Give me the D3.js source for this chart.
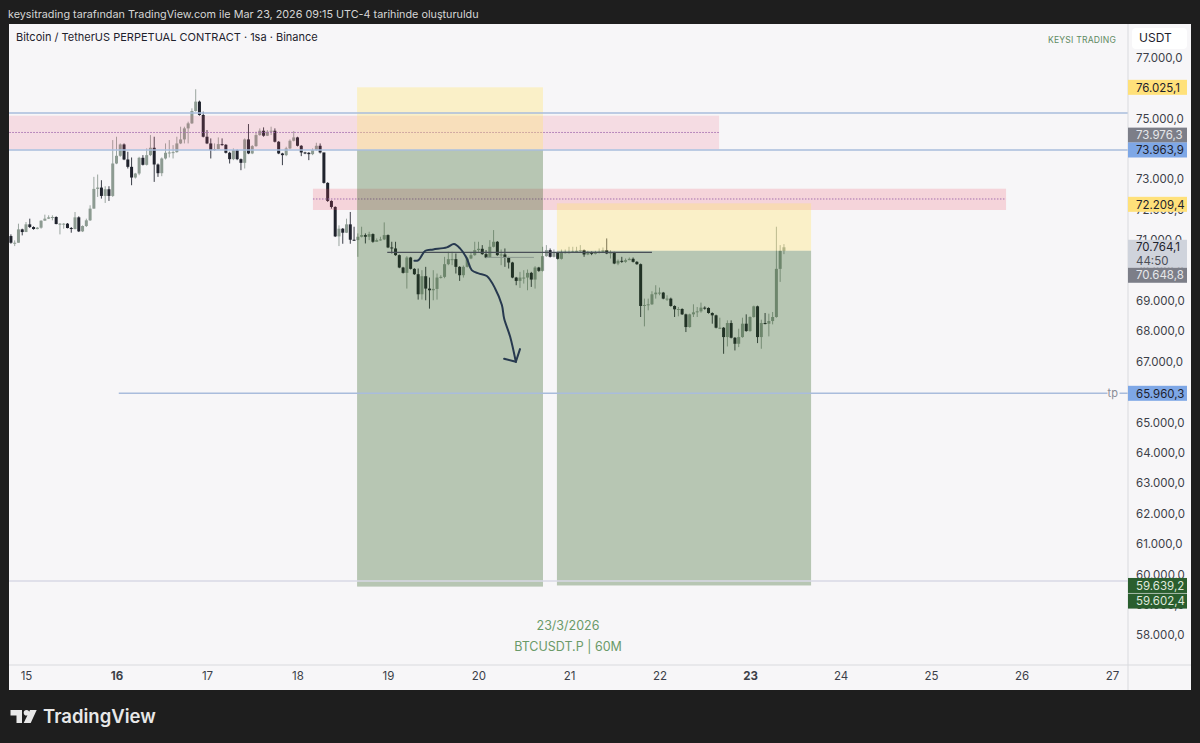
<!DOCTYPE html>
<html>
<head>
<meta charset="utf-8">
<script src="https://cdn.jsdelivr.net/npm/d3@7"></script>
<style>
html,body{margin:0;padding:0;background:#1e1e1e;overflow:hidden}
text{font-family:Inter,Roboto,sans-serif}
</style>
</head>
<body>
<div id="data"></div>
<script>
// hourly candles, first one is Mar 14 20:00, opens follow the previous close
var firstOpen = 71133
var closes = [
70913,70913,71353,71265,71518,71430,71364,71408,71639,71705,
71749,71760,71529,71540,71540,71397,71364,71749,71287,71463,
71650,72035,72684,72728,72453,72673,72453,73520,73773,74147,
73652,73410,73058,73190,73707,73476,73795,74037,73487,73201,
73685,73872,73883,73894,74180,74312,74675,74840,75247,75555,
75115,74400,74180,73960,73993,74158,74136,73872,73663,73960,
73663,73542,74312,73850,74092,74455,74598,74433,74565,74598,
74235,73850,73795,74015,74268,74378,74103,73883,73872,73828,
73960,74103,73883,72882,72288,72090,71122,71375,71243,71518,
71012,
71000,71110,71165,71110,71198,70945,71000,71022,71165,70758,
70725,70505,70098,69922,70428,70054,69878,69218,69812,69405,
69350,69394,69768,69790,70208,70373,70373,70120,69845,70120,
70395,70505,70670,70714,70538,70428,70780,70945,70505,70527,
70417,70263,69768,69658,69768,69768,69922,69702,70098,69988,
70472,70670,
70450,70582,70384,70582,70604,70604,70626,70648,70670,70527,
70593,70549,70593,70615,70670,70560,70593,70230,70318,70285,
70340,70384,70285,70208,68833,68866,68888,69218,69273,69273,
69075,69075,68833,68723,68734,68558,68140,68558,68624,68657,
68778,68767,68602,68525,68118,68118,67810,68272,67788,67590,
67810,68250,68008,68470,68822,67810,68272,68250,68338,68470,
70054,70648,70764]
var highs = [
71188,70990,71540,71375,71595,71705,71452,71430,71650,71837,
71815,71815,71782,71562,71562,71562,71430,71925,71782,71485,
71705,72145,73080,73157,72970,72772,72772,74290,74400,74180,
74180,73905,73718,73212,73740,73795,74015,74455,74400,73520,
73718,74180,74290,74125,74400,74730,74730,74895,75335,75962,
75588,75225,74620,74345,74180,74378,74345,74158,73905,74015,
73982,73685,74345,74818,74125,74565,74675,74708,74620,74730,
74675,74257,73872,74070,74312,74587,74400,74125,73905,73894,
74015,74202,74180,73872,72904,72310,72112,71485,71397,71705,
71925,
71440,71220,71440,71220,71275,71220,71055,71110,71583,71187,
70945,70945,70527,70120,70472,70450,70076,70065,70010,70120,
69768,70010,69900,69845,70450,70615,70615,70560,70142,70164,
70450,70582,70945,70945,70835,70670,71000,71330,70967,70692,
70725,70450,70285,69790,69955,70010,70032,69955,70142,70120,
70780,70835,
70725,70692,70604,70692,70692,70780,70780,70780,70835,70692,
70648,70626,70648,70725,70758,71055,70670,70615,70362,70450,
70395,70428,70428,70307,70230,69075,69075,69317,69515,69438,
69295,69185,69108,68855,68800,68756,68580,68580,68888,68800,
68943,68822,68789,68624,68547,68448,68140,68360,68360,67810,
68085,68448,68558,68492,68844,68844,68382,68602,68580,68635,
71440,70835,70868]
var lows = [
70880,70803,70913,71155,71265,71397,71342,71353,71375,71639,
71694,71650,71518,71188,71375,71386,71243,71353,71265,71265,
71430,71628,72035,72420,72365,72222,72288,72420,73498,73740,
73630,73355,72805,73025,73135,73454,73454,73762,72915,73080,
73102,73652,73718,73685,73872,74158,74180,74180,74818,75225,
75093,74378,74158,73685,73938,73982,74103,73850,73520,73630,
73630,73300,73355,73828,73828,74070,74433,74400,74422,74455,
74213,73828,73465,73762,73993,74246,74081,73762,73828,73630,
73795,73938,73850,72860,72255,72035,71100,70803,70880,71232,
70880,
70978,70450,71088,70890,71000,70912,70945,70978,71000,70736,
70560,70483,70076,69900,69405,70032,69856,69042,69042,69020,
68745,69020,69042,69735,69746,70175,70175,69900,69658,69768,
70098,70373,70483,70615,70516,70406,70428,70758,70483,70175,
70120,70065,69746,69515,69427,69570,69350,69460,69405,69955,
69966,70450,
70428,70428,70362,70362,70560,70560,70582,70604,70615,70450,
70505,70505,70527,70560,70582,70538,70395,70208,70175,70252,
70252,70340,70263,70186,68470,68162,68690,68866,69075,69185,
69053,68998,68811,68470,68492,68536,67975,68118,68470,68470,
68613,68712,68580,68250,68096,68074,67260,67502,67766,67370,
67480,67788,67986,67986,68448,67612,67425,68228,67832,68228,
68448,69625,70538]

var dayLabels = [15,16,17,18,19,20,21,22,23,24,25,26,27]
var boldDays = [16,23]
var priceTicks = [77000,76000,75000,74000,73000,72000,71000,70000,69000,68000,67000,66000,65000,64000,63000,62000,61000,60000,59000,58000]

// drawings, hours counted from Mar 15 00:00
var box1Hours = [87.8,137.1]
var box1Prices = [76025,73964,59602]
var box2Hours = [140.8,208.2]
var box2Prices = [72209,70649,59639]
var zone1Hours = [-10,183.8]
var zone1Prices = [75092,74540,73986]
var zone2Hours = [76.1,259.9]
var zone2Prices = [72690,72352,71990]
var levelPrices = [75181,73964,59784]
var tpHours = [24.6,286.8]
var tpPrice = 65960
var flatHours = [95.8,166]
var flatPrice = 70596
var flat2Hours = [122,134.7]
var flat2Price = 70431
var arrowHours = [103,104.1,105.9,108,111.6,113.5,115.1,116.9,118.2,120,122.2,124.4,126.2,126.8,128.4,129.9]
var arrowPrices = [70321,70343,70650,70694,70760,70870,70727,70398,70014,69905,69817,69411,68862,68424,67820,66997]
var headHours = [126.8,129.9,131]
var headPrices = [67096,66997,67414]

var priceTags = [
  {label:'76.025,1', price:76025.1, shift:0, fill:'#ffe17a', color:'#1e222d'},
  {label:'73.976,3', price:73976.3, shift:-14.5, fill:'#7c7e88', color:'#e6e7ea'},
  {label:'73.963,9', price:73963.9, shift:0, fill:'#7ea7e6', color:'#1e222d'},
  {label:'72.209,4', price:72209.4, shift:1, fill:'#ffe17a', color:'#1e222d'},
  {label:'65.960,3', price:65960.3, shift:0, fill:'#7ea7e6', color:'#1e222d'},
  {label:'59.639,2', price:59639.2, shift:0, fill:'#2a5e2e', color:'#dfe8dc'},
  {label:'59.602,4', price:59602.4, shift:14.5, fill:'#2a5e2e', color:'#dfe8dc'}
]

var w = 1200, h = 743
var panel = {left:9, right:1191, top:24, bottom:690}
var plotRight = 1128, plotBottom = 665

var svg = d3.select('div#data').append('svg').attr('width', w).attr('height', h).style('display','block')
svg.append('rect').attr('width', w).attr('height', h).attr('fill', '#1e1e1e')
svg.append('rect').attr('x', panel.left).attr('y', panel.top).attr('width', panel.right-panel.left).attr('height', panel.bottom-panel.top).attr('fill', '#f7f6f8')

var start = Date.UTC(2026,2,15)
function hourDate(a){ return new Date(start + a*3600000) }

var x = d3.scaleUtc().domain([hourDate(0), hourDate(288)]).range([26,1112])
var y = d3.scaleLinear().domain([77000,58000]).range([57.7,635.3])

svg.append('clipPath').attr('id','plot').append('rect')
  .attr('x', panel.left).attr('y', panel.top).attr('width', plotRight-panel.left).attr('height', plotBottom-panel.top)
var plot = svg.append('g').attr('clip-path','url(#plot)')

// candles
var candles = closes.map(function(c,i){
  return {t:hourDate(i-4), o:i ? closes[i-1] : firstOpen, c:c, hi:highs[i], lo:lows[i]}
})
var upBody = '#8d9b92', upWick = '#9aa59f', downBody = '#20232d'
plot.selectAll('line.wick').data(candles).enter().append('line')
  .attr('x1', function(d){return x(d.t)}).attr('x2', function(d){return x(d.t)})
  .attr('y1', function(d){return y(d.hi)}).attr('y2', function(d){return y(d.lo)})
  .attr('stroke', function(d){return d.c>=d.o ? upWick : '#3a3d47'}).attr('stroke-width', 1)
plot.selectAll('rect.body').data(candles).enter().append('rect')
  .attr('x', function(d){return x(d.t)-1.5}).attr('width', 3)
  .attr('y', function(d){return y(Math.max(d.o,d.c))})
  .attr('height', function(d){return Math.max(1, Math.abs(y(d.o)-y(d.c)))})
  .attr('fill', function(d){return d.c>=d.o ? upBody : downBody})

function band(hours, p0, p1, fill){
  plot.append('rect').attr('x', x(hourDate(hours[0]))).attr('width', x(hourDate(hours[1]))-x(hourDate(hours[0])))
    .attr('y', y(p0)).attr('height', y(p1)-y(p0)).attr('fill', fill)
}
function hline(hours, p, stroke, width, dash){
  plot.append('line').attr('x1', x(hourDate(hours[0]))).attr('x2', x(hourDate(hours[1])))
    .attr('y1', y(p)).attr('y2', y(p)).attr('stroke', stroke).attr('stroke-width', width).attr('stroke-dasharray', dash||null)
}

// zones
band(zone1Hours, zone1Prices[0], zone1Prices[2], 'rgba(235,90,120,0.16)')
hline(zone1Hours, zone1Prices[1], '#a56fb0', 1, '1.5 1.5')
band(zone2Hours, zone2Prices[0], zone2Prices[2], 'rgba(240,70,90,0.19)')
hline(zone2Hours, zone2Prices[1], '#a56fb0', 1, '1.5 1.5')

// position boxes
band(box1Hours, box1Prices[0], box1Prices[1], 'rgba(255,229,111,0.35)')
band(box1Hours, box1Prices[1], box1Prices[2], 'rgba(35,86,21,0.3)')
band(box2Hours, box2Prices[0], box2Prices[1], 'rgba(255,229,111,0.35)')
band(box2Hours, box2Prices[1], box2Prices[2], 'rgba(35,86,21,0.3)')

// levels
var wholeWidth = [-10,300]
hline(wholeWidth, levelPrices[0], '#a9bcdc', 1.5)
hline(wholeWidth, levelPrices[1], '#a9bcdc', 1.5)
hline(wholeWidth, levelPrices[2], '#d9d8e6', 1.5)
hline(tpHours, tpPrice, '#a9bcdc', 1.5)
hline([290,300], tpPrice, '#a9bcdc', 1.5)
plot.append('text').attr('x', x(hourDate(288.2))).attr('y', y(tpPrice)+4).attr('text-anchor','middle')
  .attr('font-size', 11).attr('fill', '#8a8d96').text('tp')
hline(flatHours, flatPrice, '#4a5058', 1.2)
hline(flat2Hours, flat2Price, '#8b9a90', 1)

// hand drawn arrow
var curve = d3.line().x(function(d){return x(hourDate(d[0]))}).y(function(d){return y(d[1])})
plot.append('path').attr('d', curve.curve(d3.curveCatmullRom)(d3.zip(arrowHours, arrowPrices)))
  .attr('fill','none').attr('stroke','#27394f').attr('stroke-width',2).attr('stroke-linecap','round')
plot.append('path').attr('d', curve.curve(d3.curveLinear)(d3.zip(headHours, headPrices)))
  .attr('fill','none').attr('stroke','#27394f').attr('stroke-width',2).attr('stroke-linecap','round')

// separators
svg.append('line').attr('x1', plotRight).attr('x2', plotRight).attr('y1', panel.top).attr('y2', panel.bottom).attr('stroke','#d9dade')
svg.append('line').attr('x1', panel.left).attr('x2', panel.right).attr('y1', plotBottom).attr('y2', plotBottom).attr('stroke','#d9dade')

// price axis
var trLocale = d3.formatLocale({decimal:',', thousands:'.', grouping:[3], currency:['','']})
var priceAxis = d3.axisRight(y).tickValues(priceTicks).tickSize(0).tickPadding(8).tickFormat(trLocale.format(',.1f'))
var gy = svg.append('g').attr('transform','translate('+plotRight+',0)').call(priceAxis)
gy.select('.domain').remove()
gy.selectAll('text').attr('font-size', 11.5).attr('fill','#3c3f48').style('font-family','Inter,Roboto,sans-serif')

svg.append('rect').attr('x',1132).attr('y',28).attr('width',55).attr('height',21).attr('rx',4).attr('fill','#ffffff')
svg.append('text').attr('x',1139).attr('y',42).attr('font-size',12).attr('fill','#1e222d').text('USDT')

// time axis
var dayDates = dayLabels.map(function(d){return new Date(Date.UTC(2026,2,d))})
var timeAxis = d3.axisBottom(x).tickValues(dayDates).tickSize(0).tickPadding(7).tickFormat(function(d){return d.getUTCDate()})
var gx = svg.append('g').attr('transform','translate(0,'+plotBottom+')').call(timeAxis)
gx.select('.domain').remove()
gx.selectAll('text').attr('font-size', 11.5).attr('fill','#3c3f48').style('font-family','Inter,Roboto,sans-serif')
  .attr('font-weight', function(d){return boldDays.indexOf(d.getUTCDate())>=0 ? 700 : 400})

// price labels
priceTags.forEach(function(t){
  var cy = y(t.price)+t.shift
  svg.append('rect').attr('x',plotRight).attr('y',cy-7.5).attr('width',59).attr('height',15).attr('fill',t.fill)
  svg.append('text').attr('x',1136).attr('y',cy+4.2).attr('font-size',11.5).attr('fill',t.color).text(t.label)
})
var lastY = y(70764.1)
svg.append('rect').attr('x',plotRight).attr('y',lastY-7.5).attr('width',59).attr('height',28).attr('fill','#cfd3dc')
svg.append('text').attr('x',1136).attr('y',lastY+4.2).attr('font-size',11.5).attr('fill','#1e222d').text('70.764,1')
svg.append('text').attr('x',1136).attr('y',lastY+17.5).attr('font-size',11.5).attr('fill','#4b4e57').text('44:50')
svg.append('rect').attr('x',plotRight).attr('y',lastY+20.5).attr('width',59).attr('height',15).attr('fill','#7c7e88')
svg.append('text').attr('x',1136).attr('y',lastY+32.2).attr('font-size',11.5).attr('fill','#e6e7ea').text('70.648,8')

// texts
svg.append('text').attr('x',8).attr('y',18).attr('font-size',10.8).attr('fill','#d6d6d6').text('keysitrading tarafından TradingView.com ile Mar 23, 2026 09:15 UTC-4 tarihinde oluşturuldu')
svg.append('text').attr('x',16).attr('y',41).attr('font-size',11).attr('fill','#1e222d').text('Bitcoin / TetherUS PERPETUAL CONTRACT · 1sa · Binance')
svg.append('text').attr('x',1116).attr('y',43).attr('text-anchor','end').attr('font-size',8.6).attr('letter-spacing',0.2).attr('fill','#5f8a62').text('KEYSI TRADING')
svg.append('text').attr('x',568).attr('y',630).attr('text-anchor','middle').attr('font-size',12.5).attr('fill','#6a9a68').text('23/3/2026')
svg.append('text').attr('x',568).attr('y',651).attr('text-anchor','middle').attr('font-size',12.5).attr('fill','#6a9a68').text('BTCUSDT.P | 60M')

// logo
var logo = svg.append('g').attr('transform','translate(10.5,710)').attr('fill','#e8e8e8')
logo.append('path').attr('d','M0 0h11.5v13h-5.5v-7.5h-6z')
logo.append('circle').attr('cx',16).attr('cy',2.8).attr('r',2.8)
logo.append('path').attr('d','M19.5 0h6.7l-6 13h-7z')
svg.append('text').attr('x',43).attr('y',723).attr('font-size',18.5).attr('font-weight',600).attr('fill','#e8e8e8').text('TradingView')
</script>
</body>
</html>
